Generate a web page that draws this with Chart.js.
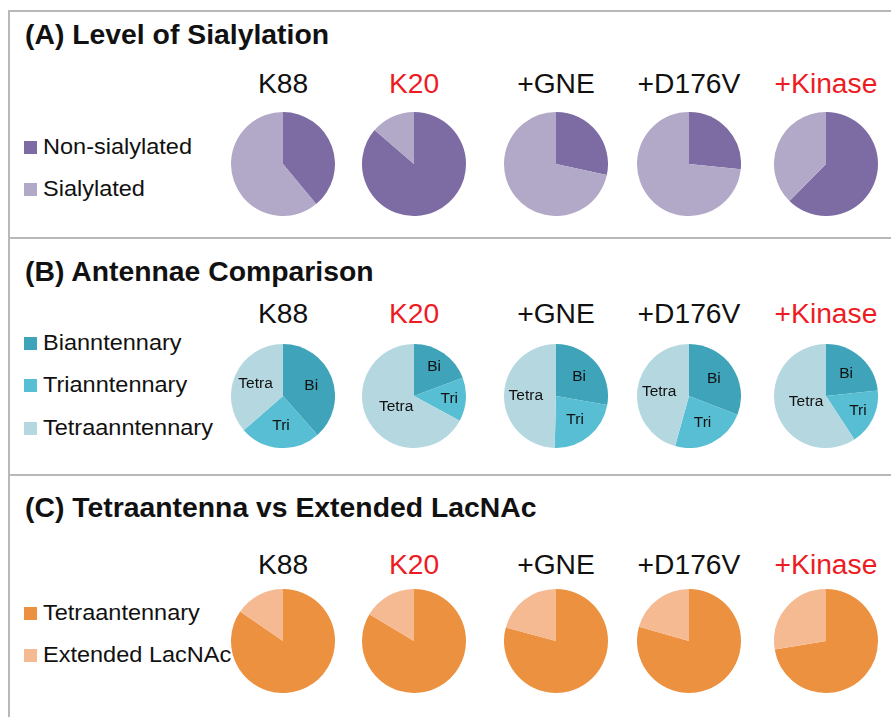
<!DOCTYPE html>
<html>
<head>
<meta charset="utf-8">
<script src="https://cdn.jsdelivr.net/npm/chart.js@4"></script>
<style>
  body { margin: 0; background: #fff; }
  #page { position: relative; width: 891px; height: 717px; overflow: hidden; font-family: "Liberation Sans", Arial, sans-serif; color: #111; }
  .hline { position: absolute; left: 8px; right: 0; height: 0; border-top: 2px solid #b8b8b8; }
  .vline { position: absolute; left: 8px; top: 10px; bottom: 0; width: 0; border-left: 2px solid #b8b8b8; }
  .title { position: absolute; left: 25px; font-size: 27px; line-height: 27px; font-weight: bold; white-space: nowrap; transform: scaleX(1.05); transform-origin: left center; }
  .col { position: absolute; width: 200px; text-align: center; font-size: 27px; line-height: 27px; white-space: nowrap; transform: scaleX(1.045); transform-origin: center center; }
  .leg { position: absolute; left: 43px; font-size: 22.5px; line-height: 22.5px; white-space: nowrap; transform: scaleX(1.045); transform-origin: left center; }
  .sw { position: absolute; left: 24px; width: 13px; height: 13px; }
  canvas { position: absolute; }
</style>
</head>
<body>
<div id="page"></div>
<script>
// groups shown as columns
const strains = ['K88', 'K20', '+GNE', '+D176V', '+Kinase'];
const highlighted = ['K20', '+Kinase'];

// (A) level of sialylation, % of glycans
const nonSialylated = [39.0, 86.3, 28.4, 26.6, 62.4];
const sialylated = [61.0, 13.7, 71.6, 73.4, 37.6];

// (B) antennae comparison, %
const biantennary = [38.5, 19.3, 27.8, 30.9, 23.3];
const triantennary = [25.1, 13.6, 22.6, 23.4, 17.5];
const tetraantennary = [36.4, 67.1, 49.6, 45.7, 59.2];
const sliceLabels = ['Bi', 'Tri', 'Tetra'];

// (C) tetraantenna vs extended LacNAc, %
const tetraOnly = [84.6, 83.6, 79.2, 79.4, 72.4];
const extendedLacNAc = [15.4, 16.4, 20.8, 20.6, 27.6];

const panels = [
  {
    title: '(A) Level of Sialylation',
    titleBase: 45, colBase: 94.3, pieY: 164,
    legend: ['Non-sialylated', 'Sialylated'],
    legendBase: [155, 197],
    colors: ['#7d6ba3', '#b2a9c8'],
    series: [nonSialylated, sialylated],
    labels: null
  },
  {
    title: '(B) Antennae Comparison',
    titleBase: 281.7, colBase: 324.3, pieY: 396,
    legend: ['Bianntennary', 'Trianntennary', 'Tetraanntennary'],
    legendBase: [350.7, 392.7, 435.7],
    colors: ['#3fa3b9', '#57bed3', '#b5d8e0'],
    series: [biantennary, triantennary, tetraantennary],
    labels: sliceLabels
  },
  {
    title: '(C) Tetraantenna vs Extended LacNAc',
    titleBase: 518.3, colBase: 575, pieY: 641,
    legend: ['Tetraantennary', 'Extended LacNAc'],
    legendBase: [620.7, 663.3],
    colors: ['#ec913f', '#f5ba91'],
    series: [tetraOnly, extendedLacNAc],
    labels: null
  }
];

const pieX = [283, 413.5, 555.5, 688.7, 825.7];
const pieSize = 104;
const ASC = 0.8465;

const page = document.getElementById('page');

function addDiv(cls, text, styles) {
  const d = document.createElement('div');
  d.className = cls;
  d.textContent = text;
  Object.assign(d.style, styles);
  page.appendChild(d);
  return d;
}

// frame lines
[10, 237, 474].forEach(y => addDiv('hline', '', { top: y + 'px' }));
addDiv('vline', '', {});

// labels inside slices, placed along the arc's middle angle
const sliceLabelPlugin = {
  id: 'sliceLabels',
  afterDatasetsDraw(chart, args, opts) {
    if (!opts.labels) return;
    const ctx = chart.ctx;
    const meta = chart.getDatasetMeta(0);
    const total = chart.data.datasets[0].data.reduce((a, b) => a + b, 0);
    ctx.save();
    ctx.font = '15.5px "Liberation Sans", Arial, sans-serif';
    ctx.fillStyle = '#111';
    ctx.textAlign = 'center';
    ctx.textBaseline = 'middle';
    meta.data.forEach((arc, i) => {
      const frac = chart.data.datasets[0].data[i] / total;
      let k = 0.58;
      if (frac < 0.2) k = 0.68;
      if (frac > 0.55) k = 0.4;
      const mid = (arc.startAngle + arc.endAngle) / 2;
      const r = arc.outerRadius * k;
      ctx.fillText(opts.labels[i], arc.x + Math.cos(mid) * r, arc.y + Math.sin(mid) * r);
    });
    ctx.restore();
  }
};

panels.forEach(p => {
  addDiv('title', p.title, { top: (p.titleBase - ASC * 27) + 'px' });

  p.legend.forEach((name, i) => {
    addDiv('leg', name, { top: (p.legendBase[i] - ASC * 22.5) + 'px' });
    addDiv('sw', '', { top: (p.legendBase[i] - 14) + 'px', background: p.colors[i] });
  });

  strains.forEach((s, j) => {
    addDiv('col', s, {
      left: (pieX[j] - 100) + 'px',
      top: (p.colBase - ASC * 27) + 'px',
      color: highlighted.includes(s) ? '#ed1c24' : '#111'
    });

    const cv = document.createElement('canvas');
    cv.width = pieSize;
    cv.height = pieSize;
    cv.style.left = (pieX[j] - pieSize / 2) + 'px';
    cv.style.top = (p.pieY - pieSize / 2) + 'px';
    page.appendChild(cv);

    new Chart(cv, {
      type: 'pie',
      data: {
        labels: p.legend,
        datasets: [{
          data: p.series.map(arr => arr[j]),
          backgroundColor: p.colors,
          borderWidth: 0
        }]
      },
      options: {
        responsive: false,
        animation: false,
        layout: { padding: 0 },
        plugins: {
          legend: { display: false },
          tooltip: { enabled: false },
          sliceLabels: { labels: p.labels }
        }
      },
      plugins: [sliceLabelPlugin]
    });
  });
});
</script>
</body>
</html>
